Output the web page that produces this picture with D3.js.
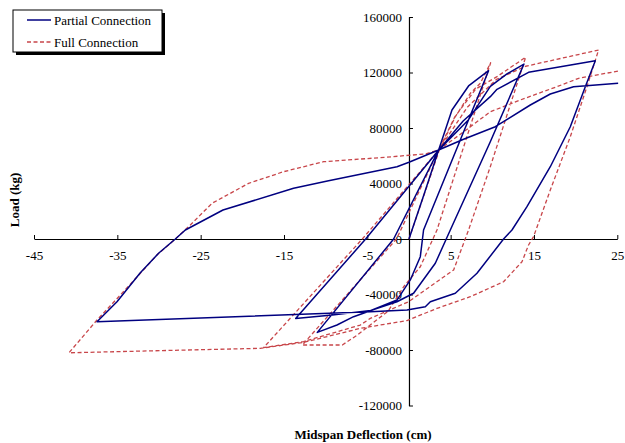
<!DOCTYPE html>
<html>
<head>
<meta charset="utf-8">
<script src="https://cdn.jsdelivr.net/npm/d3@7"></script>
<style>
  html, body { margin: 0; padding: 0; background: #fff; }
  svg { display: block; }
  svg text { font-family: "Liberation Serif", "Times New Roman", Times, "DejaVu Serif", serif !important; }
</style>
</head>
<body>
<svg id="chart" width="625" height="443"></svg>
<script>
// ---- Data ----
const seriesNames = ["Partial Connection", "Full Connection"];

const partialDeflection = [0, 1.8, 3.55, 5.16, 7.15, 9.55,
  1.75, 1.36, 0.16, -1.44, -4.64, -6.65, -8.64, -11.0,
  -1.84, 3.55, 7.15, 9.76, 11.76, 13.8,
  9.76, 4.96, 3.16, 0.55, -1.44, -4.6, -9.2, -13.6,
  -5.2, 3.55, 6.5, 9.76, 10.56, 14.35, 22.36,
  21.16, 19.36, 16.96, 14.16, 12.36, 11.35, 8.16, 5.56, 2.56, 1.96, -0.24, -4.64, -37.44,
  -35.04, -32.24, -30.05, -28.04, -26.84, -22.32, -13.85, -9.65, -1.44, 0, 3.55, 6.55, 10.36, 14.56, 16.96, 19.75, 25.1];
const partialLoad = [0, 32000, 64000, 93000, 110300, 121300,
  6500, -12760, -29500, -44000, -51700, -56000, -62000, -67300,
  0, 64000, 86000, 110000, 119000, 126100,
  70100, 6490, -17500, -39100, -45200, -51500, -54700, -57300,
  0, 64000, 85000, 102600, 107900, 120100, 128500,
  109800, 80900, 52100, 23300, 6490, 0, -24720, -39130, -45190, -48790, -51170, -52400, -59600,
  -45190, -24290, -10300, 0, 6490, 20900, 36540, 42020, 52110, 55280, 64140, 71850, 80930, 96570, 104500, 109760, 112200];

const fullDeflection = [0, 3.64, 5.56, 7.36, 8.56, 9.8,
  3.36, 1.36, -0.64, -2.5, -6.2, -8.0, -12.8,
  -1.5, 3.55, 5.5, 8.0, 10.56, 14.0,
  9.76, 7.15, 5.36, -0.05, -4.64, -5.84, -12.65, -17.45,
  -5.6, 3.55, 7.0, 10.5, 14.0, 22.75,
  21.36, 19.36, 16.96, 14.95, 14.35, 13.56, 11.35, 7.36, 3.36, -0.24, -5.84, -8.24, -12.65, -17.85, -40.8,
  -37.44, -34.64, -32.24, -30.24, -28.04, -26.24, -23.64, -19.25, -15.05, -10.25, -2.84, 1.96, 3.55, 6.5, 9.76, 13.36, 17.76, 20.36, 25.15];
const fullLoad = [0, 64100, 88100, 105000, 112200, 127000,
  6490, -20000, -34400, -52000, -69200, -76400, -76400,
  0, 64000, 88000, 108000, 117000, 131000,
  52100, 6490, -22300, -45200, -57200, -62000, -73900, -78300,
  0, 64000, 95000, 115000, 124500, 136200,
  109800, 73700, 35300, 1660, -4300, -16400, -30800, -41600, -50000, -58800, -64400, -68000, -74500, -78800, -82000,
  -58400, -40400, -24700, -11500, 0, 10100, 25700, 40100, 48500, 55700, 58900, 61300, 64100, 77000, 91700, 100200, 109800, 115800, 121100];

const xTicks = [-45, -35, -25, -15, -5, 5, 15, 25];
const yTicks = [-120000, -80000, -40000, 0, 40000, 80000, 120000, 160000];
const xTitle = "Midspan Deflection (cm)";
const yTitle = "Load (kg)";

// ---- Drawing ----
const svg = d3.select("#chart");
const x = d3.scaleLinear().domain([-45, 25]).range([34, 617.3]);
const y = d3.scaleLinear().domain([-120000, 160000]).range([405.5, 17]);

const colors = ["#000080", "#C8464A"];
const series = [
  { name: seriesNames[0], pts: partialDeflection.map((d, i) => [d, partialLoad[i]]), color: colors[0], dash: null, width: 1.5 },
  { name: seriesNames[1], pts: fullDeflection.map((d, i) => [d, fullLoad[i]]), color: colors[1], dash: "4,2.5", width: 1.3 }
];

const line = d3.line().x(p => x(p[0])).y(p => y(p[1]));
const fmt = v => String(v); // plain hyphen-minus like the reference

// axes
const xAxis = d3.axisBottom(x).tickValues(xTicks).tickFormat(fmt)
  .tickSizeInner(-4).tickSizeOuter(0).tickPadding(12);
const gx = svg.append("g").attr("transform", `translate(0,${y(0)})`).call(xAxis);
gx.attr("font-family", null);
gx.selectAll("text").attr("font-size", 13).attr("fill", "#000");
gx.select(".domain").attr("stroke", "#000").attr("stroke-width", 1.2);
gx.selectAll(".tick line").attr("stroke", "#000");

const yAxis = d3.axisLeft(y).tickValues(yTicks).tickFormat(fmt)
  .tickSizeInner(-4).tickSizeOuter(0).tickPadding(7);
const gy = svg.append("g").attr("transform", `translate(${x(0)},0)`).call(yAxis);
gy.attr("font-family", null);
gy.selectAll("text").attr("font-size", 13).attr("fill", "#000");
gy.select(".domain").attr("stroke", "#000").attr("stroke-width", 1.2);
gy.selectAll(".tick line").attr("stroke", "#000");

// series (full first so partial sits on top)
[series[1], series[0]].forEach(s => {
  svg.append("path").datum(s.pts)
    .attr("d", line)
    .attr("fill", "none")
    .attr("stroke", s.color)
    .attr("stroke-width", s.width)
    .attr("stroke-linejoin", "round")
    .attr("stroke-dasharray", s.dash);
});

// titles
svg.append("text").attr("x", 363).attr("y", 439).attr("text-anchor", "middle")
  .attr("font-size", 13).attr("font-weight", "bold").text(xTitle);
svg.append("text").attr("transform", "translate(19,200) rotate(-90)").attr("text-anchor", "middle")
  .attr("font-size", 13).attr("font-weight", "bold").text(yTitle);

// legend
const lg = svg.append("g");
lg.append("rect").attr("x", 16).attr("y", 13).attr("width", 149).attr("height", 42).attr("fill", "#000");
lg.append("rect").attr("x", 13).attr("y", 10).attr("width", 149).attr("height", 42)
  .attr("fill", "#fff").attr("stroke", "#000").attr("stroke-width", 1);
series.forEach((s, i) => {
  const yy = 20 + i * 22;
  lg.append("line").attr("x1", 27).attr("x2", 51).attr("y1", yy).attr("y2", yy)
    .attr("stroke", s.color).attr("stroke-width", s.width).attr("stroke-dasharray", s.dash);
  lg.append("text").attr("x", 54).attr("y", yy + 4.5).attr("font-size", 13).text(s.name);
});
</script>
</body>
</html>
